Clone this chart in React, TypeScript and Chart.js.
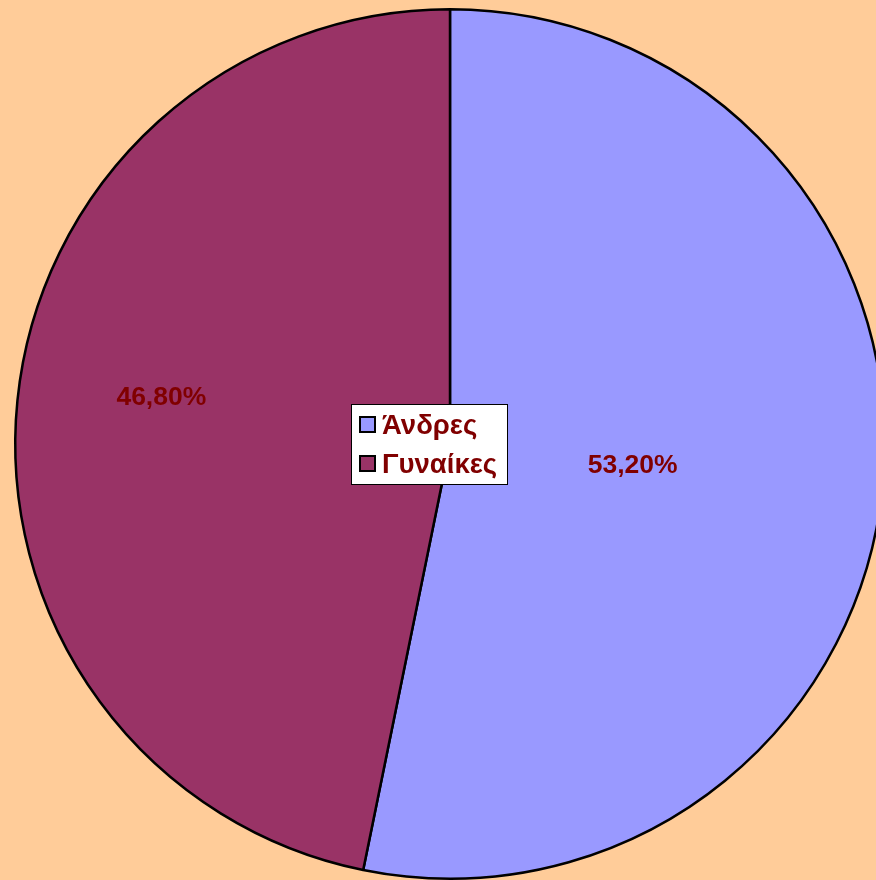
import React, { useEffect, useRef } from "react";
import { Chart, registerables } from "chart.js";

Chart.register(...registerables);

const categories = ["Άνδρες", "Γυναίκες"];
const values = [53.2, 46.8];
const valueLabels = ["53,20%", "46,80%"];
const colors = ["#9999FF", "#993366"];

const labelOffsets = [
  [0.42, 0.047],
  [-0.664, -0.109],
];

const overlayPlugin = {
  id: "overlay",
  afterDraw(chart: any) {
    const ctx = chart.ctx;
    const meta = chart.getDatasetMeta(0);
    const arc0 = meta.data[0];
    const cx = arc0.x;
    const cy = arc0.y;
    const r = arc0.outerRadius;
    ctx.save();
    ctx.fillStyle = "#800000";
    ctx.font = "bold 26.5px 'Liberation Sans', Arial, sans-serif";
    ctx.textAlign = "center";
    ctx.textBaseline = "middle";
    valueLabels.forEach((t, i) => {
      const [fx, fy] = labelOffsets[i];
      ctx.fillText(t, cx + fx * r, cy + fy * r + 1);
    });
    // legend
    const lx = 351.5, ly = 404.5, lw = 156, lh = 80;
    ctx.fillStyle = "#FFFFFF";
    ctx.fillRect(lx, ly, lw, lh);
    ctx.strokeStyle = "#000000";
    ctx.lineWidth = 1;
    ctx.strokeRect(lx, ly, lw, lh);
    ctx.font = "bold 27.5px 'Liberation Sans', Arial, sans-serif";
    ctx.textAlign = "left";
    ctx.textBaseline = "alphabetic";
    const rows = [434, 473];
    categories.forEach((c, i) => {
      const my = rows[i] - 17;
      ctx.fillStyle = colors[i];
      ctx.fillRect(360, my, 15, 15);
      ctx.lineWidth = 2;
      ctx.strokeStyle = "#000000";
      ctx.strokeRect(360, my, 15, 15);
      ctx.fillStyle = "#800000";
      ctx.fillText(c, 382, rows[i]);
    });
    ctx.restore();
  },
};

export default function App() {
  const ref = useRef<HTMLCanvasElement>(null);
  useEffect(() => {
    document.body.style.margin = "0";
    document.body.style.background = "#FFCC99";
    const chart = new Chart(ref.current!, {
      type: "pie",
      data: {
        labels: categories,
        datasets: [
          {
            data: values,
            backgroundColor: colors,
            borderColor: "#000000",
            borderWidth: 2.5,
          },
        ],
      },
      options: {
        responsive: false,
        animation: false,
        layout: { padding: { left: 14, right: 14, top: 8, bottom: 10 } },
        plugins: {
          legend: { display: false },
          tooltip: { enabled: false },
        },
      },
      plugins: [overlayPlugin],
    });
    return () => chart.destroy();
  }, []);
  return (
    <div
      style={{
        width: 876,
        height: 880,
        overflow: "hidden",
        position: "relative",
        background: "#FFCC99",
      }}
    >
      <canvas
        ref={ref}
        width={900}
        height={890}
        style={{ position: "absolute", left: 0, top: 0, width: 900, height: 890 }}
      />
    </div>
  );
}
